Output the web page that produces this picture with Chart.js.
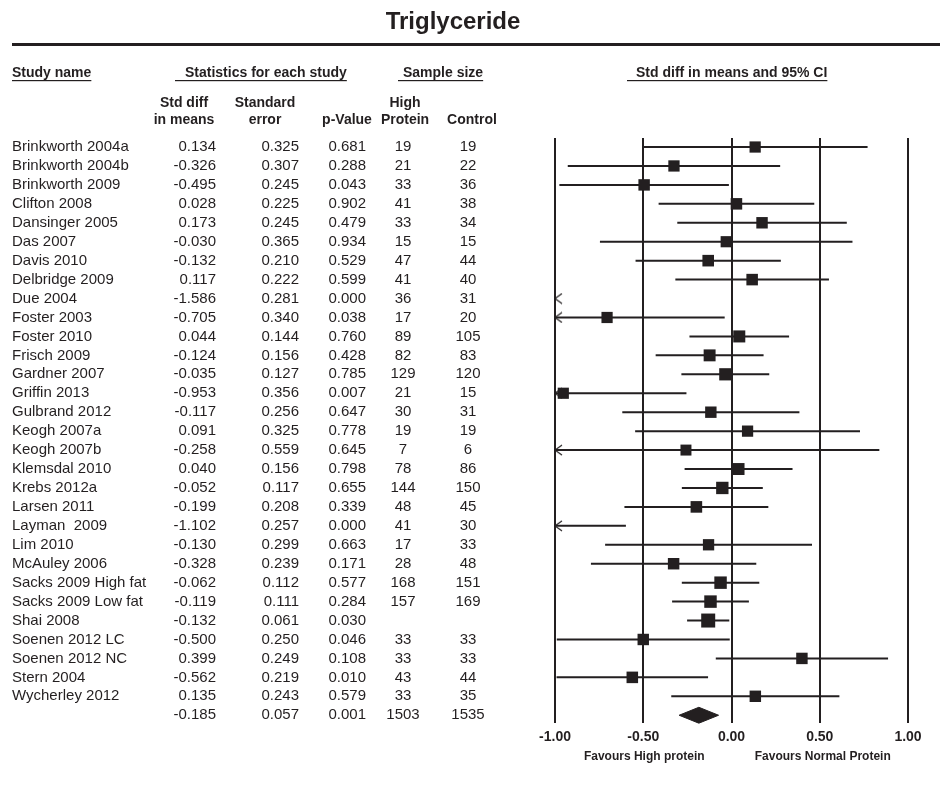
<!DOCTYPE html>
<html>
<head>
<meta charset="utf-8">
<title>Triglyceride</title>
<script src="https://cdn.jsdelivr.net/npm/chart.js@4.4.1/dist/chart.umd.min.js"></script>
<style>
    html, body { margin: 0; padding: 0; background: #fff; }
    #wrap { width: 940px; height: 786px; }
</style>
</head>
<body>
<div id="wrap"><canvas id="forest" width="940" height="786"></canvas></div>
<script>
// values
var studies = ['Brinkworth 2004a', 'Brinkworth 2004b', 'Brinkworth 2009', 'Clifton 2008', 'Dansinger 2005',
    'Das 2007', 'Davis 2010', 'Delbridge 2009', 'Due 2004', 'Foster 2003', 'Foster 2010', 'Frisch 2009',
    'Gardner 2007', 'Griffin 2013', 'Gulbrand 2012', 'Keogh 2007a', 'Keogh 2007b', 'Klemsdal 2010',
    'Krebs 2012a', 'Larsen 2011', 'Layman  2009', 'Lim 2010', 'McAuley 2006', 'Sacks 2009 High fat',
    'Sacks 2009 Low fat', 'Shai 2008', 'Soenen 2012 LC', 'Soenen 2012 NC', 'Stern 2004', 'Wycherley 2012'];
var stdDiff = [0.134, -0.326, -0.495, 0.028, 0.173, -0.030, -0.132, 0.117, -1.586, -0.705, 0.044, -0.124,
    -0.035, -0.953, -0.117, 0.091, -0.258, 0.040, -0.052, -0.199, -1.102, -0.130, -0.328, -0.062,
    -0.119, -0.132, -0.500, 0.399, -0.562, 0.135];
var stdErr = [0.325, 0.307, 0.245, 0.225, 0.245, 0.365, 0.210, 0.222, 0.281, 0.340, 0.144, 0.156,
    0.127, 0.356, 0.256, 0.325, 0.559, 0.156, 0.117, 0.208, 0.257, 0.299, 0.239, 0.112,
    0.111, 0.061, 0.250, 0.249, 0.219, 0.243];
var pValue = [0.681, 0.288, 0.043, 0.902, 0.479, 0.934, 0.529, 0.599, 0.000, 0.038, 0.760, 0.428,
    0.785, 0.007, 0.647, 0.778, 0.645, 0.798, 0.655, 0.339, 0.000, 0.663, 0.171, 0.577,
    0.284, 0.030, 0.046, 0.108, 0.010, 0.579];
var nHigh = [19, 21, 33, 41, 33, 15, 47, 41, 36, 17, 89, 82, 129, 21, 30, 19, 7, 78, 144, 48, 41, 17, 28, 168,
    157, null, 33, 33, 43, 33];
var nControl = [19, 22, 36, 38, 34, 15, 44, 40, 31, 20, 105, 83, 120, 15, 31, 19, 6, 86, 150, 45, 30, 33, 48, 151,
    169, null, 33, 33, 44, 35];

// pooled estimate (last row)
var totalDiff = -0.185;
var totalErr = 0.057;
var totalP = 0.001;
var totalHigh = 1503;
var totalControl = 1535;

var xTicks = [-1, -0.5, 0, 0.5, 1];

var ink = '#231f20';
var family = '"Liberation Sans", Arial, Helvetica, sans-serif';
var summaryRow = studies.length;

// build the chart data from the arrays above
var ciLines = [];
var boxes = [];
var boxRadius = [];
var arrows = [];

for (var i = 0; i < studies.length; i++) {
    var lo = stdDiff[i] - 1.96 * stdErr[i];
    var hi = stdDiff[i] + 1.96 * stdErr[i];
    if (hi > xTicks[0]) {
        ciLines.push({ x: Math.max(lo, xTicks[0]), y: i });
        ciLines.push({ x: Math.min(hi, xTicks[4]), y: i });
        ciLines.push({ x: null, y: null });
    }
    if (lo < xTicks[0]) {
        arrows.push({ x: xTicks[0], y: i });
    }
    if (stdDiff[i] >= xTicks[0] && stdDiff[i] <= xTicks[4]) {
        boxes.push({ x: stdDiff[i], y: i });
        // box side grows with precision (1/se)
        var side = 10.6 + 3.4 * (0.061 / stdErr[i]);
        boxRadius.push(side / Math.SQRT2);
    }
}

var dLo = totalDiff - 1.96 * totalErr;
var dHi = totalDiff + 1.96 * totalErr;
var half = 0.42;
var diamond = [
    { x: dLo, y: summaryRow },
    { x: totalDiff, y: summaryRow - half },
    { x: dHi, y: summaryRow },
    { x: totalDiff, y: summaryRow + half },
    { x: dLo, y: summaryRow }
];

function makeArrow() {
    var c = document.createElement('canvas');
    c.width = 18;
    c.height = 12;
    var g = c.getContext('2d');
    g.strokeStyle = ink;
    g.lineWidth = 1.2;
    g.beginPath();
    g.moveTo(16, 1);
    g.lineTo(9, 6);
    g.lineTo(16, 11);
    g.stroke();
    return c;
}

function fmt(v, d) {
    return v === null ? '' : v.toFixed(d);
}

var tablePlugin = {
    id: 'table',
    afterDraw: function (chart) {
        var ctx = chart.ctx;
        var ys = chart.scales.y;
        var xs = chart.scales.x;
        ctx.save();
        ctx.fillStyle = ink;

        // title + rule
        ctx.font = 'bold 24px ' + family;
        ctx.textAlign = 'center';
        ctx.textBaseline = 'alphabetic';
        ctx.fillText('Triglyceride', 453, 29);
        ctx.fillRect(12, 43, 928, 3);

        // group headers, underlined
        ctx.font = 'bold 14px ' + family;
        ctx.textAlign = 'left';
        var groups = [
            ['Study name', 12, 12],
            ['Statistics for each study', 185, 175],
            ['Sample size', 403, 398],
            ['Std diff in means and 95% CI', 636, 627]
        ];
        groups.forEach(function (g) {
            ctx.fillText(g[0], g[1], 77);
            var w = ctx.measureText(g[0]).width;
            ctx.fillRect(g[2], 80, g[1] + w - g[2], 1.2);
        });

        // column headers
        ctx.textAlign = 'center';
        var cols = [
            [184, 'Std diff', 'in means'],
            [265, 'Standard', 'error'],
            [347, '', 'p-Value'],
            [405, 'High', 'Protein'],
            [472, '', 'Control']
        ];
        cols.forEach(function (c) {
            ctx.fillText(c[1], c[0], 107);
            ctx.fillText(c[2], c[0], 124);
        });

        // rows
        ctx.font = '15px ' + family;
        ctx.textBaseline = 'middle';
        function row(r, name, d, se, p, a, b) {
            var y = ys.getPixelForValue(r);
            ctx.textAlign = 'left';
            ctx.fillText(name, 12, y);
            ctx.textAlign = 'right';
            ctx.fillText(fmt(d, 3), 216, y);
            ctx.fillText(fmt(se, 3), 299, y);
            ctx.fillText(fmt(p, 3), 366, y);
            ctx.textAlign = 'center';
            ctx.fillText(a === null ? '' : String(a), 403, y);
            ctx.fillText(b === null ? '' : String(b), 468, y);
        }
        for (var i = 0; i < studies.length; i++) {
            row(i, studies[i], stdDiff[i], stdErr[i], pValue[i], nHigh[i], nControl[i]);
        }
        row(summaryRow, '', totalDiff, totalErr, totalP, totalHigh, totalControl);

        // favours labels under the axis
        ctx.font = 'bold 12px ' + family;
        ctx.textAlign = 'center';
        ctx.fillText('Favours High protein', xs.getPixelForValue(-0.5) + 1, 757);
        ctx.fillText('Favours Normal Protein', xs.getPixelForValue(0.5) + 3, 757);
        ctx.restore();
    }
};

var chart = new Chart(document.getElementById('forest'), {
    type: 'scatter',
    data: {
        datasets: [{
            label: 'Study',
            data: boxes,
            pointStyle: 'rect',
            pointRadius: boxRadius,
            pointBackgroundColor: ink,
            pointBorderWidth: 0,
            clip: false,
            order: 0
        }, {
            label: 'Off scale',
            data: arrows,
            pointStyle: makeArrow(),
            pointRadius: 6,
            clip: false,
            order: 1
        }, {
            label: '95% CI',
            data: ciLines,
            showLine: true,
            spanGaps: false,
            borderColor: ink,
            borderWidth: 2,
            pointRadius: 0,
            order: 2
        }, {
            label: 'Pooled',
            data: diamond,
            showLine: true,
            borderColor: ink,
            borderWidth: 1,
            backgroundColor: ink,
            fill: 'shape',
            pointRadius: 0,
            clip: false,
            order: 0
        }]
    },
    options: {
        responsive: false,
        animation: false,
        devicePixelRatio: 1,
        events: [],
        layout: { padding: { left: 555, right: 32, top: 138, bottom: 34 } },
        plugins: {
            legend: { display: false },
            tooltip: { enabled: false }
        },
        scales: {
            x: {
                type: 'linear',
                min: xTicks[0],
                max: xTicks[4],
                border: { display: false },
                grid: { color: ink, lineWidth: 2, drawTicks: false },
                afterBuildTicks: function (scale) {
                    scale.ticks = xTicks.map(function (v) { return { value: v }; });
                },
                ticks: {
                    padding: 6,
                    color: ink,
                    font: { family: family, size: 14, weight: 'bold' },
                    callback: function (v) { return Number(v).toFixed(2); }
                }
            },
            y: {
                type: 'linear',
                display: false,
                reverse: true,
                min: -0.476,
                max: 30.42
            }
        }
    },
    plugins: [tablePlugin]
});
</script>
</body>
</html>
